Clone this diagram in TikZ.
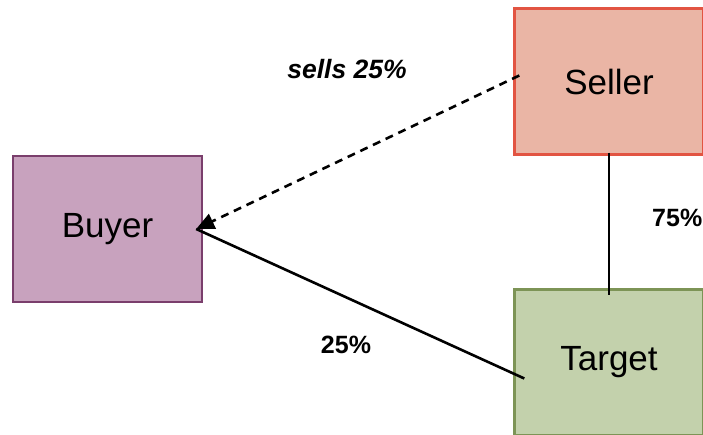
\documentclass[tikz,border=0pt]{standalone}
\usepackage{fontspec}
\setmainfont{Liberation Sans}
\usetikzlibrary{arrows.meta}

\definecolor{buyerfill}{RGB}{200,162,190}
\definecolor{buyerline}{RGB}{122,62,108}
\definecolor{sellerfill}{RGB}{234,181,165}
\definecolor{sellerline}{RGB}{226,84,66}
\definecolor{targetfill}{RGB}{195,209,172}
\definecolor{targetline}{RGB}{125,148,86}

\begin{document}
\begin{tikzpicture}[x = 1pt, y = -1pt,
        party/.style = {draw, line width = 2.4pt, minimum width = 189pt, minimum height = 146pt, font = \fontsize{35}{38}\selectfont},
        share/.style = {font = \fontsize{25}{28}\selectfont\bfseries},
        link/.style = {line width = 2.6pt}]
        \useasboundingbox (0, 0) rectangle (703, 435);
        \node[party, fill = buyerfill, draw = buyerline] (buyer) at (107.5, 229) {Buyer};
        \node[party, fill = sellerfill, draw = sellerline] (seller) at (609, 81.5) {Seller};
        \node[party, fill = targetfill, draw = targetline] (target) at (609, 362.5) {Target};
        \draw[link] ([xshift = 11pt, yshift = -16pt]target.west) -- ([xshift = -7pt]buyer.east);
        \draw[link, dash pattern = on 8pt off 6pt, -{Triangle[length = 18pt, width = 16pt, sep = 0pt]}] ([xshift = 6pt, yshift = 6pt]seller.west) -- ([xshift = -7pt]buyer.east);
        \draw[link] ([yshift = 3pt]seller.south) -- ([yshift = -7pt]target.north);
        \node[share, font = \fontsize{26.5}{28}\selectfont\bfseries\itshape] (sells) at (347, 69) {sells 25\%};
        \node[share, anchor = west, inner sep = 0pt] (bigshare) at (652, 218) {75\%};
        \node[share] (smallshare) at (346, 345) {25\%};
    \end{tikzpicture}
\end{document}
